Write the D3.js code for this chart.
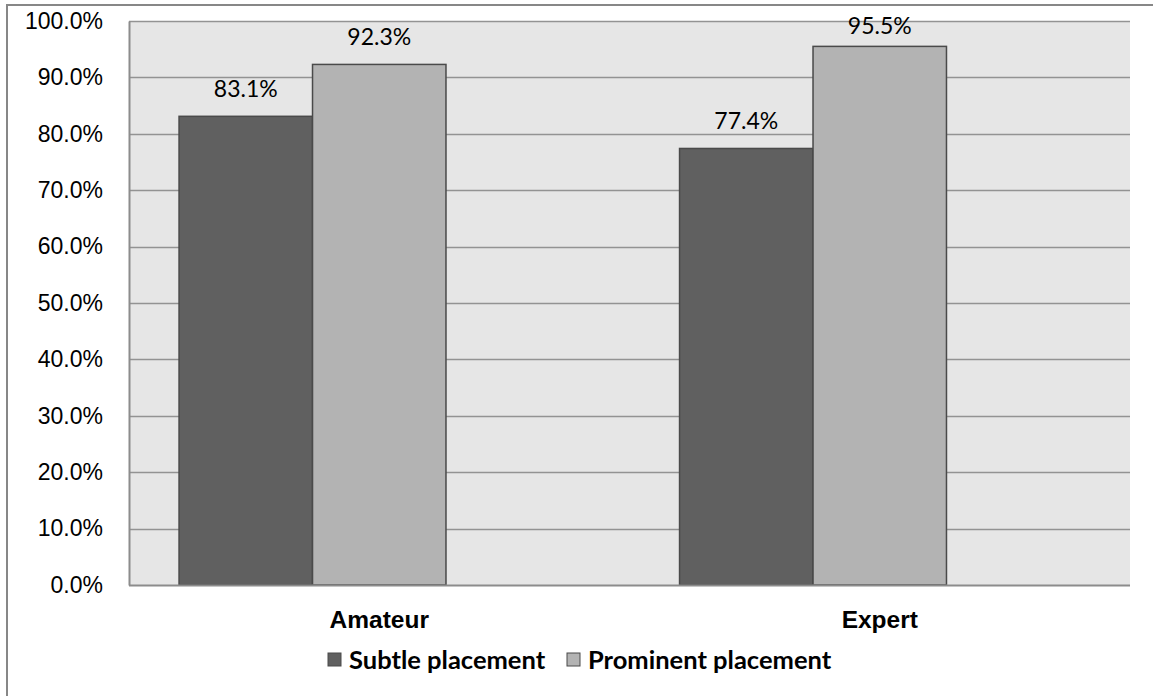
<!DOCTYPE html>
<html>
<head>
<meta charset="utf-8">
<script src="https://cdn.jsdelivr.net/npm/d3@7"></script>
<style>
  html, body { margin: 0; padding: 0; background: #fff; }
  svg { display: block; font-family: Lato, "Open Sans", sans-serif; }
</style>
</head>
<body>
<svg id="chart" width="1153" height="696"></svg>
<script>
// Share of participants per group and placement
const categories = ["Amateur", "Expert"];
const seriesNames = ["Subtle placement", "Prominent placement"];
const subtleValues = [83.1, 77.4];
const prominentValues = [92.3, 95.5];
const tickValues = [0, 10, 20, 30, 40, 50, 60, 70, 80, 90, 100];
const seriesColors = ["#606060", "#b3b3b3"];

const svg = d3.select("#chart");
const W = 1153, H = 696;
const plot = { left: 129, right: 1130, top: 21, bottom: 585 };

// outer frame (right and bottom edges fall outside the view)
svg.append("rect")
  .attr("x", 7).attr("y", 5)
  .attr("width", W + 10).attr("height", H + 10)
  .attr("fill", "#fff").attr("stroke", "#878787").attr("stroke-width", 2);

const x = d3.scaleBand().domain(categories).range([plot.left, plot.right]).paddingInner(0).paddingOuter(0);
// three slots per group, the last one left empty
const slots = ["s0", "s1", "s2"];
const xs = d3.scaleBand().domain(slots).range([0, x.bandwidth()]).paddingInner(0).paddingOuter(0.375);
const y = d3.scaleLinear().domain([0, 100]).range([plot.bottom, plot.top]);

// plot background
svg.append("rect")
  .attr("x", plot.left).attr("y", plot.top)
  .attr("width", plot.right - plot.left).attr("height", plot.bottom - plot.top)
  .attr("fill", "#e6e6e6");

// gridlines
svg.append("g").selectAll("line").data(tickValues.filter(t => t > 0)).join("line")
  .attr("x1", plot.left).attr("x2", plot.right)
  .attr("y1", d => Math.round(y(d)) + 0.5).attr("y2", d => Math.round(y(d)) + 0.5)
  .attr("stroke", "#939393").attr("stroke-width", 1.5);

// y axis
const yAxis = d3.axisLeft(y).tickValues(tickValues).tickSize(0).tickPadding(26)
  .tickFormat(d => d.toFixed(1) + "%");
const gy = svg.append("g").attr("transform", `translate(${plot.left},0)`).call(yAxis);
gy.select(".domain").attr("stroke", "#8c8c8c").attr("stroke-width", 2);
gy.selectAll("text").attr("font-size", 23).attr("fill", "#000");

// bars
const series = [subtleValues, prominentValues];
const groups = svg.append("g").selectAll("g").data(categories).join("g")
  .attr("transform", d => `translate(${x(d)},0)`);
groups.each(function(cat, ci) {
  const g = d3.select(this);
  series.forEach((vals, si) => {
    const v = vals[ci];
    g.append("rect")
      .attr("x", xs(slots[si]))
      .attr("y", y(v))
      .attr("width", xs.bandwidth())
      .attr("height", y(0) - y(v))
      .attr("fill", seriesColors[si])
      .attr("stroke", "#4a4a4a").attr("stroke-width", 1.5);
    // value label above the bar, kept inside the chart frame
    g.append("text")
      .attr("x", xs(slots[si]) + xs.bandwidth() / 2)
      .attr("y", Math.max(y(v) - 19, plot.top + 13))
      .attr("text-anchor", "middle")
      .attr("font-size", 23).attr("fill", "#000")
      .text(v.toFixed(1) + "%");
  });
});

// x axis baseline
svg.append("line")
  .attr("x1", plot.left).attr("x2", plot.right)
  .attr("y1", plot.bottom + 0.5).attr("y2", plot.bottom + 0.5)
  .attr("stroke", "#8c8c8c").attr("stroke-width", 2);

// category labels
const xAxis = d3.axisBottom(x).tickSize(0).tickPadding(26);
const gx = svg.append("g").attr("transform", `translate(0,${plot.bottom})`).call(xAxis);
gx.select(".domain").remove();
gx.selectAll("text").attr("font-size", 24.5).attr("font-weight", "bold").attr("fill", "#000");

// legend
const legend = svg.append("g").attr("transform", "translate(327,669)");
const legendX = [0, 239];
seriesNames.forEach((name, i) => {
  const lg = legend.append("g").attr("transform", `translate(${legendX[i]},0)`);
  lg.append("rect").attr("x", 1).attr("y", -16).attr("width", 13).attr("height", 13)
    .attr("fill", seriesColors[i]).attr("stroke", "#4a4a4a").attr("stroke-width", 1);
  lg.append("text").attr("x", 22).attr("y", 0)
    .attr("font-size", 25.5).attr("font-weight", "bold").attr("fill", "#000").text(name);
});
</script>
</body>
</html>
